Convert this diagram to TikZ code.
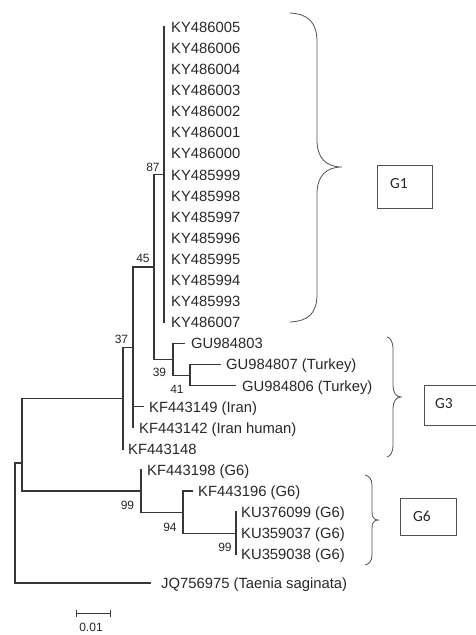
\documentclass[tikz,border=0pt]{standalone}
\usepackage{fontspec}
\setmainfont{Liberation Sans}
\newfontfamily\boxfont{Carlito}
\definecolor{treeline}{RGB}{55,55,55}
\definecolor{txt}{RGB}{40,40,40}
\definecolor{bracecol}{RGB}{80,80,80}
\begin{document}
\begin{tikzpicture}[x=1pt,y=-1pt,
  br/.style={draw=treeline,line width=1.1pt,line cap=rect},
  leaf/.style={anchor=west,inner sep=0pt,text=txt,font=\fontsize{14.8}{16}\selectfont,text height=10.6pt,text depth=0pt},
  boot/.style={anchor=center,inner sep=0pt,text=txt,font=\fontsize{12}{14}\selectfont,text height=8.6pt,text depth=0pt},
  bracepath/.style={draw=bracecol,line width=0.8pt},
  groupbox/.style={draw=bracecol,line width=0.8pt},
  grouplabel/.style={anchor=center,inner sep=0pt,text=txt,font=\boxfont\fontsize{15.5}{18}\selectfont,text height=10pt,text depth=0pt}]
\useasboundingbox (0,0) rectangle (476,635);
\fill[white] (0,0) rectangle (476,635);

% ---------- leaf labels ----------
\node[leaf] (L0)  at (171,27.0)  {KY486005};
\node[leaf] (L1)  at (171,48.1)  {KY486006};
\node[leaf] (L2)  at (171,69.2)  {KY486004};
\node[leaf] (L3)  at (171,90.3)  {KY486003};
\node[leaf] (L4)  at (171,111.4) {KY486002};
\node[leaf] (L5)  at (171,132.5) {KY486001};
\node[leaf] (L6)  at (171,153.6) {KY486000};
\node[leaf] (L7)  at (171,174.7) {KY485999};
\node[leaf] (L8)  at (171,195.8) {KY485998};
\node[leaf] (L9)  at (171,216.9) {KY485997};
\node[leaf] (L10) at (171,238.0) {KY485996};
\node[leaf] (L11) at (171,259.1) {KY485995};
\node[leaf] (L12) at (171,280.2) {KY485994};
\node[leaf] (L13) at (171,301.3) {KY485993};
\node[leaf] (L14) at (171,322.4) {KY486007};
\node[leaf] (L15) at (191,343.5) {GU984803};
\node[leaf] (L16) at (226,364.6) {GU984807 (Turkey)};
\node[leaf] (L17) at (242,385.7) {GU984806 (Turkey)};
\node[leaf] (L18) at (149,406.8) {KF443149 (Iran)};
\node[leaf] (L19) at (139,427.9) {KF443142 (Iran human)};
\node[leaf] (L20) at (128,449.0) {KF443148};
\node[leaf] (L21) at (147,470.0) {KF443198 (G6)};
\node[leaf] (L22) at (198,491.0) {KF443196 (G6)};
\node[leaf] (L23) at (241,512.0) {KU376099 (G6)};
\node[leaf] (L24) at (241,533.3) {KU359037 (G6)};
\node[leaf] (L25) at (241,554.5) {KU359038 (G6)};
\node[leaf] (L26) at (161,583.0) {JQ756975 (Taenia saginata)};

% ---------- internal nodes ----------
\coordinate (root)  at (15,463);
\coordinate (rootb) at (15,583);
\coordinate (n22)   at (22,463);
\coordinate (n123)  at (123,398.2);
\coordinate (n133)  at (133,347.5);
\coordinate (n154)  at (154,267);
\coordinate (n164)  at (164,174.7);
\coordinate (n173)  at (173,359.3);
\coordinate (n190)  at (190,375.2);
\coordinate (n141)  at (141,491);
\coordinate (n183)  at (183,512.2);
\coordinate (n236)  at (236,533.3);
\coordinate (e15)   at (184,343.5);
\coordinate (e16)   at (220,364.6);
\coordinate (e17)   at (235,385.7);
\coordinate (e18)   at (143,406.8);
\coordinate (e22)   at (192,491.0);
\coordinate (e26)   at (150,583.0);

% ---------- branches ----------
% root
\draw[br] (root) -- (rootb) -- (e26);
\draw[br] (root) -- (n22);
% node at x=22
\draw[br] (n22 |- n123) -- (n22 |- n141);
\draw[br] (n22 |- n123) -- (n123);
\draw[br] (n22 |- n141) -- (n141);
% node at x=123 (parent of 37)
\draw[br] (n123 |- n133) -- (n123 |- L20.west);
\draw[br] (n123 |- n133) -- (n133);
% node 37 at x=133
\draw[br] (n133 |- n154) -- (n133 |- L19.west);
\draw[br] (n133 |- n154) -- (n154);
\draw[br] (n133 |- e18) -- (e18);
% node 45 at x=154
\draw[br] (n154 |- n164) -- (n154 |- n173);
\draw[br] (n154 |- n164) -- (n164);
\draw[br] (n154 |- n173) -- (n173);
% node 87 at x=164 (G1)
\draw[br] (n164 |- L0.west) -- (n164 |- L14.west);
% node 39 at x=173
\draw[br] (n173 |- e15) -- (n173 |- n190);
\draw[br] (n173 |- e15) -- (e15);
\draw[br] (n173 |- n190) -- (n190);
% node 41 at x=190
\draw[br] (n190 |- e16) -- (n190 |- e17);
\draw[br] (n190 |- e16) -- (e16);
\draw[br] (n190 |- e17) -- (e17);
% node 99 at x=141 (G6)
\draw[br] (n141 |- L21.west) -- (n141 |- n183);
\draw[br] (n141 |- n183) -- (n183);
% node 94 at x=183
\draw[br] (n183 |- e22) -- (n183 |- n236);
\draw[br] (n183 |- e22) -- (e22);
\draw[br] (n183 |- n236) -- (n236);
% node 99 at x=236
\draw[br] (n236 |- L23.west) -- (n236 |- L25.west);

% ---------- bootstrap values ----------
\node[boot] (b87)  at (153,167)   {87};
\node[boot] (b45)  at (143,258)   {45};
\node[boot] (b37)  at (121.5,339) {37};
\node[boot] (b39)  at (159.5,372) {39};
\node[boot] (b41)  at (177,389)   {41};
\node[boot] (b99a) at (127.5,505) {99};
\node[boot] (b94)  at (170,527)   {94};
\node[boot] (b99b) at (225,547)   {99};

% ---------- scale bar ----------
\coordinate (sbl) at (76,613);
\coordinate (sbr) at (110,613);
\draw[draw=treeline,line width=1pt] (sbl) -- (sbr);
\draw[draw=treeline,line width=1pt] ([yshift=-3.5pt]sbl) -- ([yshift=3.5pt]sbl);
\draw[draw=treeline,line width=1pt] ([yshift=-3.5pt]sbr) -- ([yshift=3.5pt]sbr);
\node[boot] (sbt) at (91,627) {0.01};

% ---------- braces ----------
\draw[bracepath] (290,13) .. controls (308,14) and (317,22) .. (317,42) -- (317,140)
  .. controls (317,158) and (326,167) .. (342,167)
  .. controls (326,167) and (317,176) .. (317,194) -- (317,294)
  .. controls (317,314) and (308,321) .. (290,322);
\draw[bracepath] (387,337) .. controls (391,338) and (393,342) .. (393,350) -- (393,386)
  .. controls (393,392) and (396,397) .. (401,397)
  .. controls (396,397) and (393,402) .. (393,408) -- (393,444)
  .. controls (393,452) and (391,456) .. (387,457);
\draw[bracepath] (365,475) .. controls (369,476) and (372,479) .. (372,485) -- (372,512)
  .. controls (372,517) and (374,520) .. (378,520)
  .. controls (374,520) and (372,523) .. (372,528) -- (372,555)
  .. controls (372,561) and (369,564) .. (365,565);

% ---------- group boxes ----------
\draw[groupbox] (377,165) rectangle (432,208);
\node[grouplabel] (g1) at (399,183) {G1};
\draw[groupbox] (477,385) -- (424,385) -- (424,425) -- (477,425);
\node[grouplabel] (g3) at (444,403) {G3};
\draw[groupbox] (400,498) rectangle (456,535);
\node[grouplabel] (g6) at (422,516) {G6};
\end{tikzpicture}
\end{document}
